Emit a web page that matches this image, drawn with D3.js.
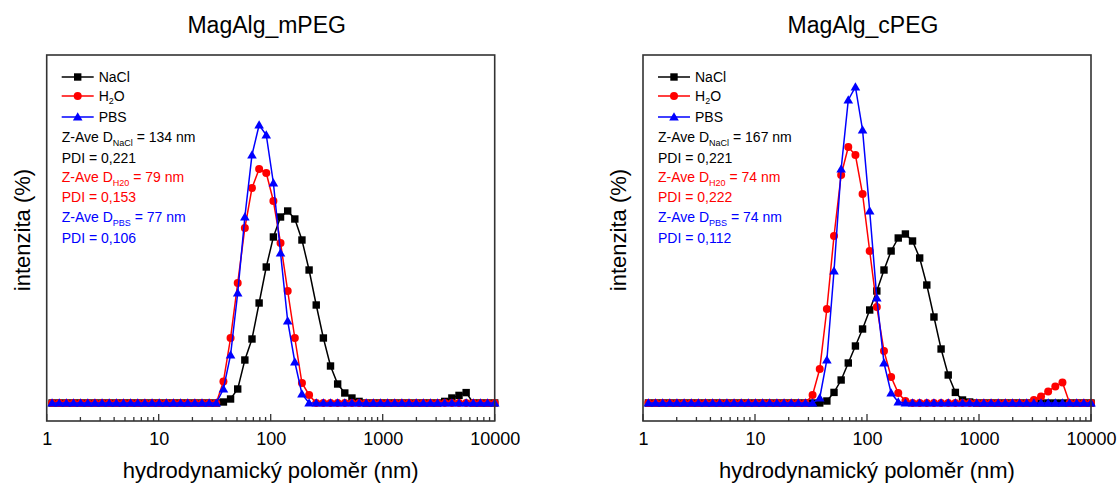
<!DOCTYPE html>
<html><head><meta charset="utf-8">
<script src="https://cdn.jsdelivr.net/npm/d3@7"></script>
<style>body{margin:0;background:#fff;} svg{display:block;} text{font-family:"Liberation Sans",Arial,sans-serif;}</style>
</head><body>
<svg id="chart" width="1117" height="484"></svg>
<script>
// Size classes (nm)
const sizes = [1.117,1.294,1.499,1.736,2.01,2.328,2.696,3.122,3.615,4.187,4.849,5.615,6.503,7.531,8.721,10.1,11.7,13.54,15.69,18.17,21.04,24.36,28.21,32.67,37.84,43.82,50.75,58.77,68.06,78.82,91.28,105.7,122.4,141.8,164.2,190.1,220.2,255.0,295.3,342.0,396.1,458.7,531.2,615.1,712.4,825.0,955.4,1106,1281,1484,1718,1990,2305,2669,3091,3580,4145,4801,5560,6439,7456,8635,10000];

// MagAlg_mPEG intensity (%)
const mPEG_NaCl = [0,0,0,0,0,0,0,0,0,0,0,0,0,0,0,0,0,0,0,0,0,0,0,0,0.05,0.2,0.7,2.15,3.2,5.0,6.8,8.3,9.3,9.6,9.2,8.15,6.65,4.9,3.25,1.85,0.95,0.5,0.25,0.08,0,0,0,0,0,0,0,0,0,0,0,0.08,0.25,0.38,0.52,0,0,0,0];
const mPEG_H2O  = [0,0,0,0,0,0,0,0,0,0,0,0,0,0,0,0,0,0,0,0,0,0,0,0,1.08,3.25,6.0,8.75,10.75,11.7,11.5,10.1,8.0,5.6,3.25,1.0,0.4,0,0,0,0,0,0,0,0,0,0,0,0,0,0,0,0,0,0,0,0,0,0,0,0,0,0];
const mPEG_PBS  = [0,0,0,0,0,0,0,0,0,0,0,0,0,0,0,0,0,0,0,0,0,0,0,0,0.7,2.4,5.5,9.3,12.4,13.9,13.4,11.0,7.5,4.1,2.05,0.45,0,0,0,0,0,0,0,0,0,0,0,0,0,0,0,0,0,0,0,0,0,0,0,0,0,0,0];

// MagAlg_cPEG intensity (%)
const cPEG_NaCl = [0,0,0,0,0,0,0,0,0,0,0,0,0,0,0,0,0,0,0,0,0,0,0,0,0,0.1,0.53,1.15,2.0,2.85,3.7,4.65,5.6,6.65,7.6,8.25,8.45,8.1,7.25,5.9,4.3,2.7,1.4,0.53,0.15,0.05,0,0,0,0,0,0,0,0,0,0,0,0,0,0,0,0,0];
const cPEG_H2O  = [0,0,0,0,0,0,0,0,0,0,0,0,0,0,0,0,0,0,0,0,0,0,0,0.4,1.7,4.7,8.35,11.4,12.8,12.4,10.45,7.6,4.8,2.6,1.3,0.5,0.1,0,0,0,0,0,0,0,0,0,0,0,0,0,0,0,0,0,0.15,0.33,0.58,0.83,1.03,0,0,0,0];
const cPEG_PBS  = [0,0,0,0,0,0,0,0,0,0,0,0,0,0,0,0,0,0,0,0,0,0,0,0,0.25,2.15,6.6,11.7,15.15,15.8,13.65,9.6,5.25,2.0,0.5,0.05,0,0,0,0,0,0,0,0,0,0,0,0,0,0,0,0,0,0,0,0,0,0,0,0,0,0,0];

const titles = ["MagAlg_mPEG", "MagAlg_cPEG"];
const xTickValues = [1, 10, 100, 1000, 10000];
const xTickLabels = ["1", "10", "100", "1000", "10000"];
const seriesNames = ["NaCl", "H2O", "PBS"];
const seriesColors = ["#000000", "#ff0000", "#0000ff"];
const zaveNaCl = ["134", "167"];
const pdiNaCl = ["0,221", "0,221"];
const zaveH2O = ["79", "74"];
const pdiH2O = ["0,153", "0,222"];
const zavePBS = ["77", "74"];
const pdiPBS = ["0,106", "0,112"];
const xLabel = "hydrodynamický poloměr (nm)";
const yLabel = "intenzita  (%)";

const panelData = [[mPEG_NaCl, mPEG_H2O, mPEG_PBS], [cPEG_NaCl, cPEG_H2O, cPEG_PBS]];
const panelLeft = [46.7, 643];
const plotW = 448, plotTop = 55, plotBottom = 421;

const svg = d3.select("#chart");

function drawMarker(g, type, x, y, color) {
  if (type === 0) {
    g.append("rect").attr("x", x - 3.7).attr("y", y - 3.7).attr("width", 7.4).attr("height", 7.4).attr("fill", color);
  } else if (type === 1) {
    g.append("circle").attr("cx", x).attr("cy", y).attr("r", 4).attr("fill", color);
  } else {
    const s = d3.symbol().type(d3.symbolTriangle).size(40);
    g.append("path").attr("d", s()).attr("transform", `translate(${x},${y + 0.8})`).attr("fill", color);
  }
}

panelData.forEach((series, p) => {
  const L = panelLeft[p];
  const x = d3.scaleLog().domain([1, 10000]).range([L, L + plotW]);
  const y = d3.scaleLinear().domain([-0.9, 17.4]).range([plotBottom, plotTop]);
  const g = svg.append("g");
  const cx = L + plotW / 2;

  // title
  g.append("text").attr("x", cx - 4).attr("y", 33).attr("text-anchor", "middle")
    .attr("font-size", 23).attr("fill", "#000").text(titles[p]);

  // series
  const line = d3.line().x((d, i) => x(sizes[i])).y(d => y(d));
  series.forEach((vals, s) => {
    g.append("path").datum(vals).attr("d", line).attr("fill", "none")
      .attr("stroke", seriesColors[s]).attr("stroke-width", 1.5);
    const mg = g.append("g");
    vals.forEach((v, i) => drawMarker(mg, s, x(sizes[i]), y(v), seriesColors[s]));
  });

  // frame
  g.append("rect").attr("x", L).attr("y", plotTop).attr("width", plotW).attr("height", plotBottom - plotTop)
    .attr("fill", "none").attr("stroke", "#333").attr("stroke-width", 1.6);

  // bottom axis (ticks inward)
  const minor = [];
  for (let d = 1; d < 10000; d *= 10) for (let k = 2; k <= 9; k++) minor.push(d * k);
  const axis = d3.axisBottom(x).tickValues(xTickValues).tickSize(0).tickFormat((d, i) => xTickLabels[i]);
  const ax = g.append("g").attr("transform", `translate(0,${plotBottom})`).call(axis);
  ax.select(".domain").remove();
  ax.selectAll("text").attr("font-size", 18).attr("fill", "#000").attr("dy", "1.15em")
    .style("font-family", '"Liberation Sans",Arial,sans-serif');
  g.selectAll(".major").data(xTickValues).enter().append("line")
    .attr("x1", d => x(d)).attr("x2", d => x(d)).attr("y1", plotBottom).attr("y2", plotBottom - 7)
    .attr("stroke", "#333").attr("stroke-width", 1.3);
  g.selectAll(".minor").data(minor).enter().append("line")
    .attr("x1", d => x(d)).attr("x2", d => x(d)).attr("y1", plotBottom).attr("y2", plotBottom - 4)
    .attr("stroke", "#333").attr("stroke-width", 1.3);

  // axis labels
  g.append("text").attr("x", cx).attr("y", 478).attr("text-anchor", "middle")
    .attr("font-size", 22).attr("fill", "#000").text(xLabel);
  g.append("text").attr("transform", `translate(${L - 17},230) rotate(-90)`).attr("text-anchor", "middle")
    .attr("font-size", 22).attr("fill", "#000").text(yLabel);

  // legend
  const lx = L + 15;
  const ly = [77, 96, 117];
  seriesNames.forEach((nm, s) => {
    g.append("line").attr("x1", lx).attr("x2", lx + 32).attr("y1", ly[s]).attr("y2", ly[s])
      .attr("stroke", seriesColors[s]).attr("stroke-width", 1.5);
    drawMarker(g, s, lx + 16, ly[s], seriesColors[s]);
    const t = g.append("text").attr("x", lx + 37).attr("y", ly[s] + 5).attr("font-size", 14).attr("fill", "#000");
    if (nm === "H2O") {
      t.append("tspan").text("H");
      t.append("tspan").attr("font-size", 9).attr("dy", 3).text("2");
      t.append("tspan").attr("dy", -3).text("O");
    } else t.text(nm);
  });

  const info = [
    {c: seriesColors[0], sub: "NaCl", z: zaveNaCl[p], pdi: pdiNaCl[p]},
    {c: seriesColors[1], sub: "H20", z: zaveH2O[p], pdi: pdiH2O[p]},
    {c: seriesColors[2], sub: "PBS", z: zavePBS[p], pdi: pdiPBS[p]}
  ];
  const rowY = [[137, 158], [177, 197], [217, 238]];
  info.forEach((d, k) => {
    const t = g.append("text").attr("x", lx).attr("y", rowY[k][0] + 5).attr("font-size", 14).attr("fill", d.c);
    t.append("tspan").text("Z-Ave D");
    t.append("tspan").attr("font-size", 9).attr("dy", 4).text(d.sub);
    t.append("tspan").attr("dy", -4).text(" = " + d.z + " nm");
    g.append("text").attr("x", lx).attr("y", rowY[k][1] + 5).attr("font-size", 14).attr("fill", d.c)
      .text("PDI = " + d.pdi);
  });
});
</script>
</body></html>
